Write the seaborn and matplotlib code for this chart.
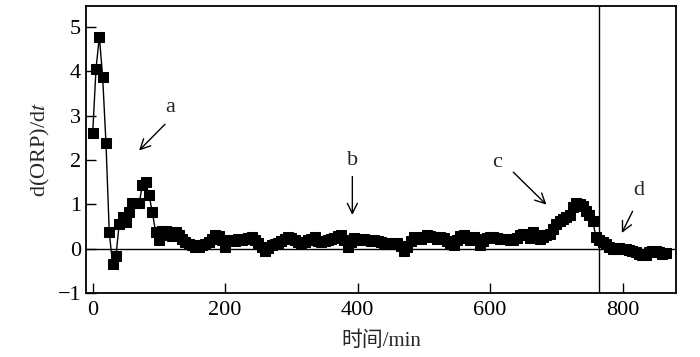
import numpy as np
import pandas as pd
import seaborn as sns
import matplotlib.pyplot as plt

# d(ORP)/dt sampled every 5 min
time_min = np.arange(0, 870, 5)
d_orp = [
    2.62, 4.06, 4.78, 3.87, 2.38, 0.37, -0.35, -0.17, 0.56, 0.71,
    0.60, 0.83, 1.02, 1.02, 1.02, 1.43, 1.50, 1.20, 0.83, 0.37,
    0.19, 0.41, 0.40, 0.30, 0.28, 0.38, 0.30, 0.22, 0.15, 0.11,
    0.08, 0.05, 0.04, 0.08, 0.11, 0.15, 0.22, 0.30, 0.28, 0.20,
    0.04, 0.18, 0.19, 0.17, 0.22, 0.20, 0.22, 0.24, 0.26, 0.20,
    0.12, 0.04, -0.04, 0.02, 0.08, 0.11, 0.14, 0.18, 0.22, 0.26,
    0.24, 0.20, 0.15, 0.12, 0.15, 0.19, 0.22, 0.26, 0.18, 0.15,
    0.17, 0.19, 0.22, 0.25, 0.28, 0.30, 0.20, 0.04, 0.15, 0.24,
    0.22, 0.20, 0.22, 0.19, 0.17, 0.19, 0.18, 0.15, 0.12, 0.11,
    0.10, 0.12, 0.13, 0.06, -0.04, 0.05, 0.18, 0.26, 0.24, 0.22,
    0.27, 0.30, 0.28, 0.26, 0.22, 0.26, 0.24, 0.18, 0.10, 0.08,
    0.20, 0.28, 0.30, 0.24, 0.19, 0.26, 0.22, 0.08, 0.18, 0.24,
    0.26, 0.26, 0.24, 0.23, 0.23, 0.21, 0.19, 0.19, 0.24, 0.30,
    0.34, 0.30, 0.25, 0.38, 0.30, 0.23, 0.26, 0.30, 0.34, 0.45,
    0.56, 0.62, 0.68, 0.71, 0.75, 0.95, 1.04, 1.00, 0.96, 0.86,
    0.76, 0.62, 0.26, 0.20, 0.15, 0.10, 0.04, 0.00, 0.00, 0.01,
    0.00, 0.00, -0.02, -0.04, -0.08, -0.11, -0.13, -0.15, -0.08, -0.05,
    -0.04, -0.08, -0.11, -0.10,
]
x_ticks = [0, 200, 400, 600, 800]
y_ticks = [-1, 0, 1, 2, 3, 4, 5]
split_time = 765

# labels: (text, text pos, arrow tail, arrow head)
notes = [
    ('a', (117, 3.19), (112, 2.85), (67, 2.17)),
    ('b', (392, 1.99), (392, 1.69), (392, 0.70)),
    ('c', (611, 1.95), (632, 1.77), (688, 0.95)),
    ('d', (824, 1.32), (817, 0.90), (797, 0.30)),
]

df = pd.DataFrame({'time': time_min, 'dorp': d_orp})

sns.set_theme(style='ticks')
plt.rcParams['font.family'] = ['Liberation Serif', 'Noto Sans CJK SC']
plt.rcParams['mathtext.fontset'] = 'stix'
plt.rcParams['axes.unicode_minus'] = True

fig = plt.figure(figsize=(7, 3.57), dpi=100)
ax = fig.add_axes([0.123, 0.179, 0.843, 0.804])

sns.lineplot(data=df, x='time', y='dorp', ax=ax, color='black', linewidth=1,
             marker='s', markersize=7.5, markeredgecolor='black',
             markerfacecolor='black')

ax.axhline(0, color='black', linewidth=1, zorder=1)
ax.axvline(split_time, color='black', linewidth=1, zorder=1)

for txt, tpos, tail, head in notes:
    ax.text(tpos[0], tpos[1], txt, ha='center', va='center', fontsize=16)
    ax.annotate('', xy=head, xytext=tail,
                arrowprops=dict(arrowstyle='->', color='black', lw=1,
                                mutation_scale=18))

ax.set_xlim(-10, 881)
ax.set_ylim(-1, 5.47)
ax.set_xticks(x_ticks)
ax.set_yticks(y_ticks)
ax.tick_params(direction='in', length=7, width=1, labelsize=16, colors='black',
               top=False, right=False)
ax.tick_params(axis='x', pad=6)
for s in ax.spines.values():
    s.set_linewidth(1.3)
    s.set_color('black')

ax.set_xlabel('时间/min', fontsize=15, labelpad=8)
ax.set_ylabel(r'd(ORP)/d$\mathit{t}$', fontsize=16, labelpad=4)

plt.savefig('out.png', dpi=100)
